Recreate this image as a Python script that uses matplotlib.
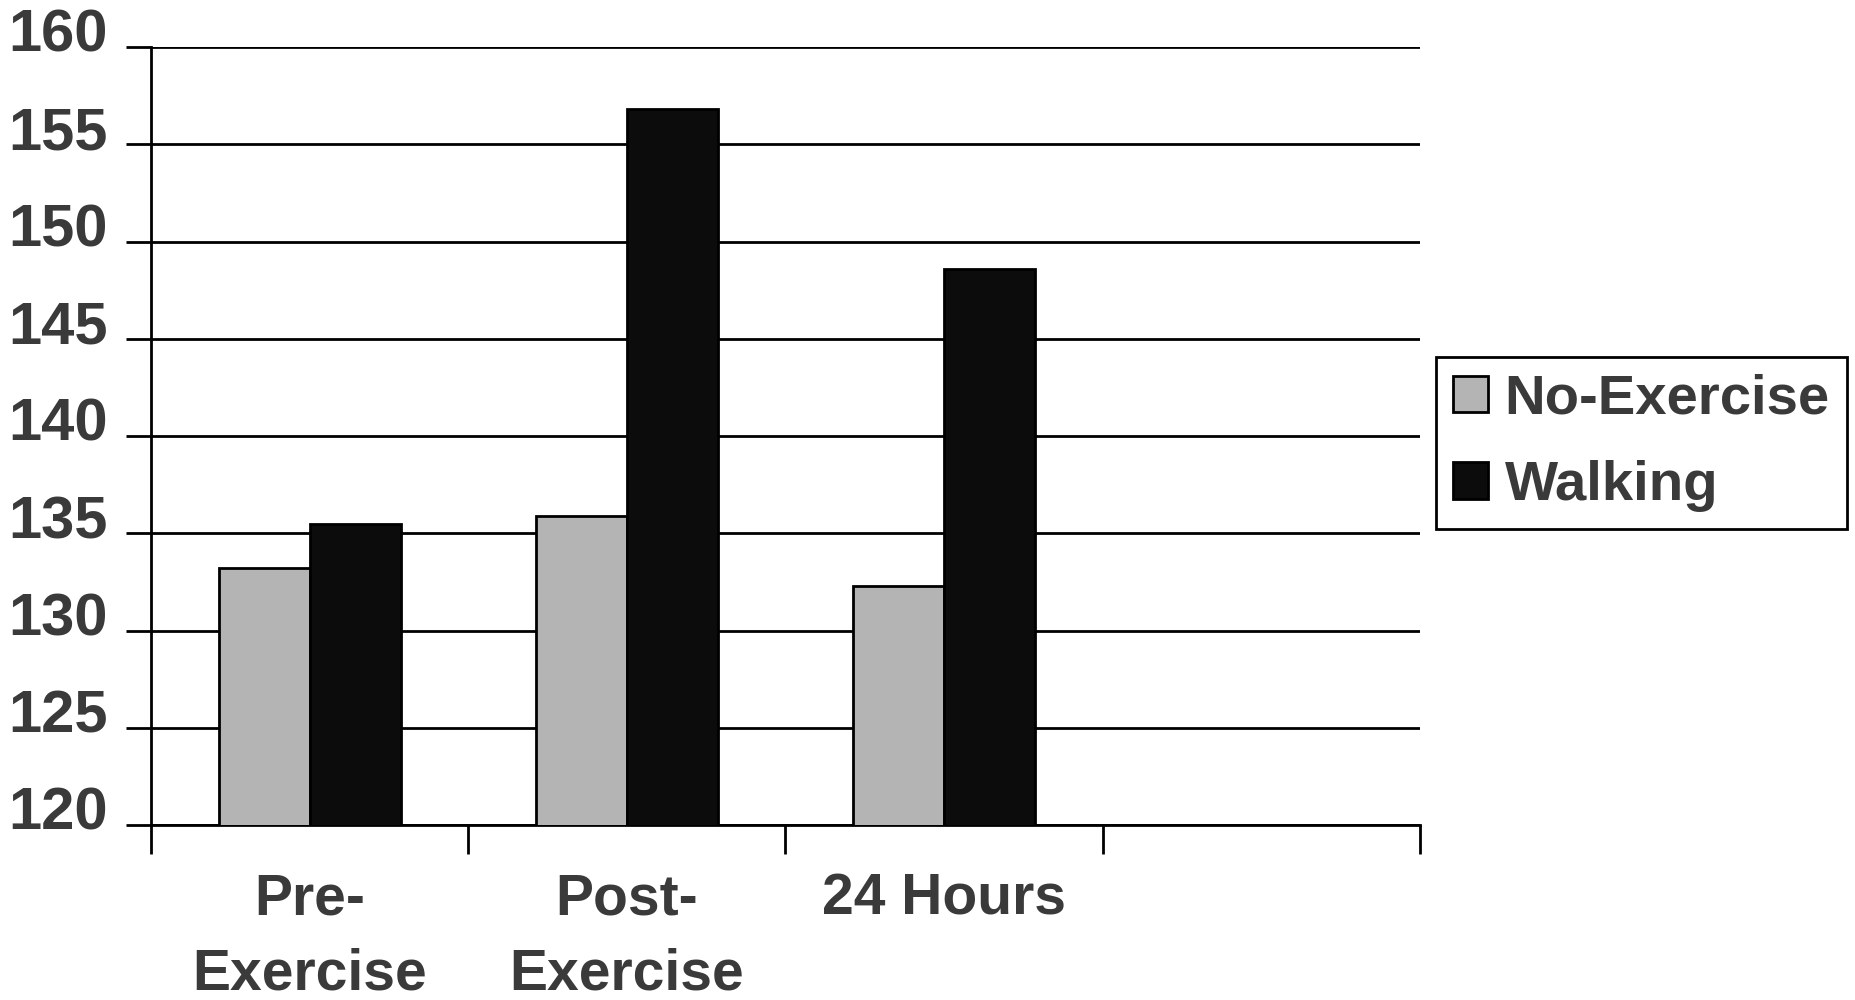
import matplotlib.pyplot as plt
import matplotlib.transforms as mtransforms
import numpy as np

plt.rcParams['font.family'] = ['Liberation Sans', 'DejaVu Sans']
plt.rcParams['font.weight'] = 'bold'

# data
categories = ['Pre-\nExercise', 'Post-\nExercise', '24 Hours']
no_exercise = [133.2, 135.9, 132.3]
walking = [135.5, 156.8, 148.6]
series_names = ['No-Exercise', 'Walking']
y_ticks = [120, 125, 130, 135, 140, 145, 150, 155, 160]

text_col = '#3a3a3a'
gray = '#b4b4b4'
dark = '#0c0c0c'

fig = plt.figure(figsize=(18.56, 10), dpi=100)
ax = fig.add_axes([0.0814, 0.175, 0.765 - 0.0814, 0.953 - 0.175])

x = np.arange(len(categories))
w = 0.287
ax.bar(x - w / 2, no_exercise, w, color=gray, edgecolor='black', linewidth=2,
       label=series_names[0], zorder=3)
ax.bar(x + w / 2, walking, w, color=dark, edgecolor='black', linewidth=2,
       label=series_names[1], zorder=3)

# one empty slot on the right, like the original
ax.set_xlim(-0.5, len(categories) + 0.5)
ax.set_ylim(y_ticks[0], y_ticks[-1])
ax.set_yticks(y_ticks)
ax.yaxis.grid(True, color='black', linewidth=2)
ax.set_axisbelow(True)

# tick marks between categories, labels at centres
ax.set_xticks(np.arange(-0.5, len(categories) + 1, 1.0))
ax.set_xticklabels([])
ax.set_xticks(x, minor=True)
ax.set_xticklabels(categories, minor=True, fontsize=41, color=text_col,
                   fontweight='bold', linespacing=1.5)
ax.tick_params(axis='x', which='major', length=21, width=2, direction='out')
ax.tick_params(axis='x', which='minor', length=0, pad=34)
ax.tick_params(axis='y', length=18, width=2, direction='out', pad=13,
               labelsize=43, labelcolor=text_col)

for lab in ax.get_yticklabels():
    lab.set_fontweight('bold')
    lab.set_transform(lab.get_transform() +
                      mtransforms.ScaledTranslation(0, 12 / 72, fig.dpi_scale_trans))

for s in ['top', 'right']:
    ax.spines[s].set_visible(False)
for s in ['left', 'bottom']:
    ax.spines[s].set_linewidth(2)

leg = fig.legend(loc='center left', bbox_to_anchor=(1436 / 1856, 1 - 443 / 1000),
                 fontsize=40.5, frameon=True, fancybox=False, framealpha=1,
                 handlelength=0.62, handleheight=0.62, handletextpad=0.3,
                 labelspacing=0.62, borderpad=0.3, borderaxespad=0)
leg.get_frame().set_edgecolor('black')
leg.get_frame().set_linewidth(2)
for t in leg.get_texts():
    t.set_color(text_col)
    t.set_fontweight('bold')

fig.savefig('out.png', dpi=100)
